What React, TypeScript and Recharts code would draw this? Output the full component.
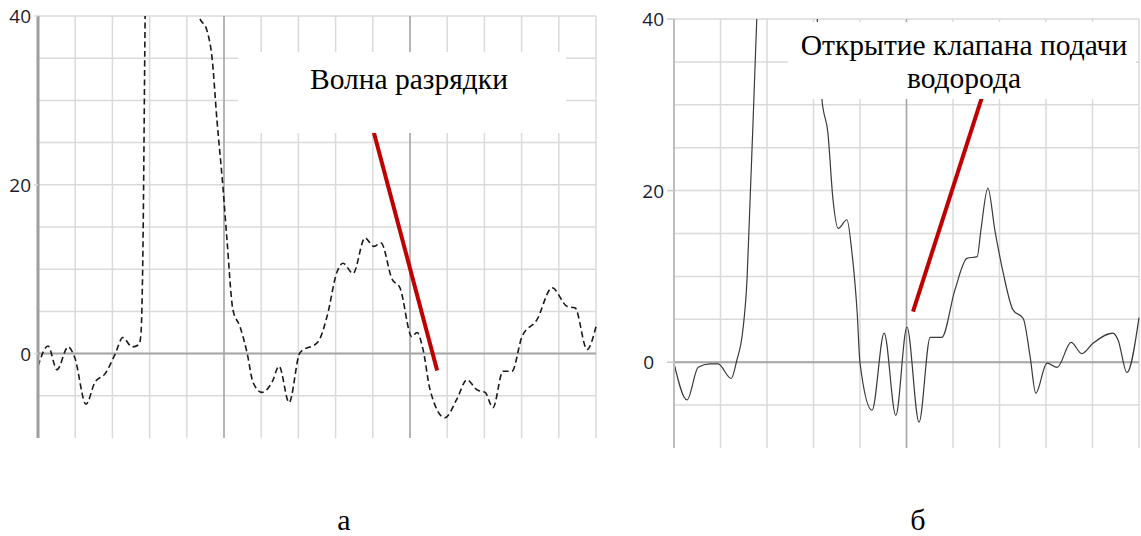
import { CartesianGrid, Line, LineChart, ReferenceLine, XAxis, YAxis } from "recharts";

// panel "а" — discharge wave (dashed)
const aX = [
  0, 0.27, 0.51, 0.81, 0.99, 1.29, 1.53, 1.8, 2.07, 2.28, 2.53, 2.72, 2.77, 2.82, 2.88, 2.97,
  3.68, 4.33, 4.54, 4.68, 4.81, 4.97, 5.08, 5.24, 5.43, 5.62, 5.78, 6.02, 6.29, 6.48, 6.75,
  7.04, 7.53, 7.77, 8.04, 8.2, 8.47, 8.79, 9.03, 9.22, 9.52, 9.73, 10.05, 10.19, 10.35, 10.54,
  10.94, 11.26, 11.53, 11.8, 12.02, 12.23, 12.5, 12.74, 13.01, 13.41, 13.82, 14.22, 14.44,
  14.76, 15,
];
const aY = [
  -1.5, 0.9, -1.9, 0.8, -0.5, -6.0, -3.4, -2.4, -0.1, 1.9, 0.8, 1.1, 2.5, 12, 40, 70,
  90, 40, 38.3, 35, 27.7, 19.8, 13.5, 5.2, 3.2, 0.1, -3.4, -4.6, -3.4, -1.5, -5.8,
  0.1, 1.4, 4.4, 9.7, 10.7, 9.5, 13.7, 12.7, 13.1, 8.8, 7.8, 2.0, 2.5, 0.5, -4.3,
  -7.6, -5.4, -3.1, -4.3, -4.6, -6.4, -2.1, -2.1, 2.0, 4.0, 7.8, 5.6, 5.4,
  0.5, 3.2,
];

// panel "б" — hydrogen valve opening (solid)
const bX = [
  0, 0.28, 0.52, 0.77, 0.95, 1.23, 1.35, 1.48, 1.57, 1.63, 1.7, 1.78, 1.96, 2.49, 3.03, 3.18,
  3.31, 3.42, 3.53, 3.72, 3.82, 3.94, 4.0, 4.26, 4.52, 4.77, 5.01, 5.27, 5.51, 5.76, 6.04,
  6.3, 6.52, 6.6, 6.75, 6.9, 7.08, 7.29, 7.51, 7.66, 7.78, 8.02, 8.24, 8.54, 8.77, 9.01,
  9.44, 9.55, 9.74, 10,
];
const bY = [
  -0.1, -4.4, -0.6, -0.2, -0.2, -1.9, 0.2, 3.7, 9.6, 18, 28, 40, 60, 70, 45, 30.7,
  26.7, 18.9, 15.6, 16.6, 13.1, 5.7, -0.1, -5.6, 3.4, -6.2, 4.1, -7.0, 2.9, 2.9, 8.4,
  12.1, 12.3, 15.4, 20.3, 15.4, 10.4, 6.1, 5.1, 0.6, -3.6, -0.1, -0.6, 2.3, 1.0, 2.2,
  3.4, 2.6, -1.2, 5.2,
];

const yLabels = [0, 20, 40];
const yGrid = [-10, -5, 0, 5, 10, 15, 20, 25, 30, 35, 40];
const aGridX = [0, 1, 2, 3, 4, 5, 6, 7, 8, 9, 10, 11, 12, 13, 14, 15];
const bGridX = [0, 1, 2, 3, 4, 5, 6, 7, 8, 9, 10];
const aMajorX = [5, 10];
const bMajorX = [5];

const aArrow = [
  { x: 8.98, y: 27 },
  { x: 10.73, y: -2.0 },
];
const bArrow = [
  { x: 5.14, y: 5.9 },
  { x: 6.66, y: 31.5 },
];

const aData = aX.map((x, i) => ({ x, v: aY[i] }));
const bData = bX.map((x, i) => ({ x, v: bY[i] }));

const GRID = "#dadada";
const MAJOR = "#a6a6a6";
const RED = "#c00000";
const tickFont = { fontFamily: "'Open Sans', sans-serif", fontSize: 19, fill: "#1c1c2c" };
const SERIF = '"Liberation Serif", "Times New Roman", Times, "DejaVu Serif", serif';

export default function App() {
  return (
    <div style={{ position: "absolute", left: 0, top: 0, width: 1141, height: 536, background: "#fff" }}>
      <div style={{ position: "absolute", left: 0, top: 0 }}>
        <LineChart width={600} height={445} data={aData} margin={{ top: 16, right: 4, bottom: 7, left: 0 }}>
          <CartesianGrid stroke={GRID} strokeWidth={1.5} vertical={false} horizontalValues={yGrid} />
          <XAxis
            dataKey="x"
            type="number"
            domain={[0, 15]}
            ticks={aGridX}
            height={0}
            tick={false}
            axisLine={false}
            tickLine={false}
          />
          <YAxis
            type="number"
            domain={[-10, 40]}
            allowDataOverflow
            ticks={yLabels}
            width={38}
            tickSize={4}
            tickMargin={3}
            axisLine={{ stroke: "#9e9e9e", strokeWidth: 3 }}
            tickLine={{ stroke: GRID, strokeWidth: 1.5 }}
            tick={(p: any) => (
              <text x={p.x} y={p.y} dy={7} textAnchor="end" {...tickFont}>
                {p.payload.value}
              </text>
            )}
          />
          {aGridX.map((x) => (
            <ReferenceLine key={x} x={x} stroke={GRID} strokeWidth={1.5} />
          ))}
          {aMajorX.map((x) => (
            <ReferenceLine key={"m" + x} x={x} stroke={MAJOR} strokeWidth={1.5} />
          ))}
          <ReferenceLine y={0} stroke={MAJOR} strokeWidth={2} />
          <Line
            dataKey="v"
            type="monotone"
            stroke="#1a1a1a"
            strokeWidth={1.6}
            strokeDasharray="6 3.5"
            dot={false}
            isAnimationActive={false}
          />
          <ReferenceLine segment={aArrow} stroke={RED} strokeWidth={4} />
        </LineChart>
      </div>

      <div style={{ position: "absolute", left: 620, top: 0 }}>
        <LineChart width={521} height={455} data={bData} margin={{ top: 19, right: 2, bottom: 7, left: 0 }}>
          <CartesianGrid stroke={GRID} strokeWidth={1.5} vertical={false} horizontalValues={yGrid} />
          <XAxis
            dataKey="x"
            type="number"
            domain={[0, 10]}
            ticks={bGridX}
            height={0}
            tick={false}
            axisLine={false}
            tickLine={false}
          />
          <YAxis
            type="number"
            domain={[-10, 40]}
            allowDataOverflow
            ticks={yLabels}
            width={54}
            tickSize={7}
            tickMargin={3}
            axisLine={{ stroke: "#bdbdbd", strokeWidth: 2 }}
            tickLine={{ stroke: "#c8c8c8", strokeWidth: 1.5 }}
            tick={(p: any) => (
              <text
                x={p.x - (p.payload.value === 0 ? 10 : 0)}
                y={p.y}
                dy={7}
                textAnchor="end"
                {...tickFont}
              >
                {p.payload.value}
              </text>
            )}
          />
          {bGridX.map((x) => (
            <ReferenceLine key={x} x={x} stroke={GRID} strokeWidth={1.5} />
          ))}
          {bMajorX.map((x) => (
            <ReferenceLine key={"m" + x} x={x} stroke={MAJOR} strokeWidth={1.5} />
          ))}
          <ReferenceLine y={0} stroke={MAJOR} strokeWidth={2} />
          <Line
            dataKey="v"
            type="monotone"
            stroke="#3a3a3a"
            strokeWidth={1.2}
            dot={false}
            isAnimationActive={false}
          />
          <ReferenceLine segment={bArrow} stroke={RED} strokeWidth={4} />
        </LineChart>
      </div>

      <svg
        width={1141}
        height={536}
        style={{ position: "absolute", left: 0, top: 0, pointerEvents: "none", fontFamily: SERIF }}
      >
        <rect x={238} y={52} width={328} height={81} fill="#fff" />
        <text x={409} y={89} textAnchor="middle" fontSize={29.5} fill="#000">
          Волна разрядки
        </text>
        <rect x={788} y={22} width={348} height={77} fill="#fff" />
        <text x={964} y={55} textAnchor="middle" fontSize={29.5} fill="#000">
          Открытие клапана подачи
        </text>
        <text x={964} y={88} textAnchor="middle" fontSize={29.5} fill="#000">
          водорода
        </text>
        <text x={344} y={530} textAnchor="middle" fontSize={30} fill="#000">
          а
        </text>
        <text x={918} y={530} textAnchor="middle" fontSize={30} fill="#000">
          б
        </text>
      </svg>
    </div>
  );
}
